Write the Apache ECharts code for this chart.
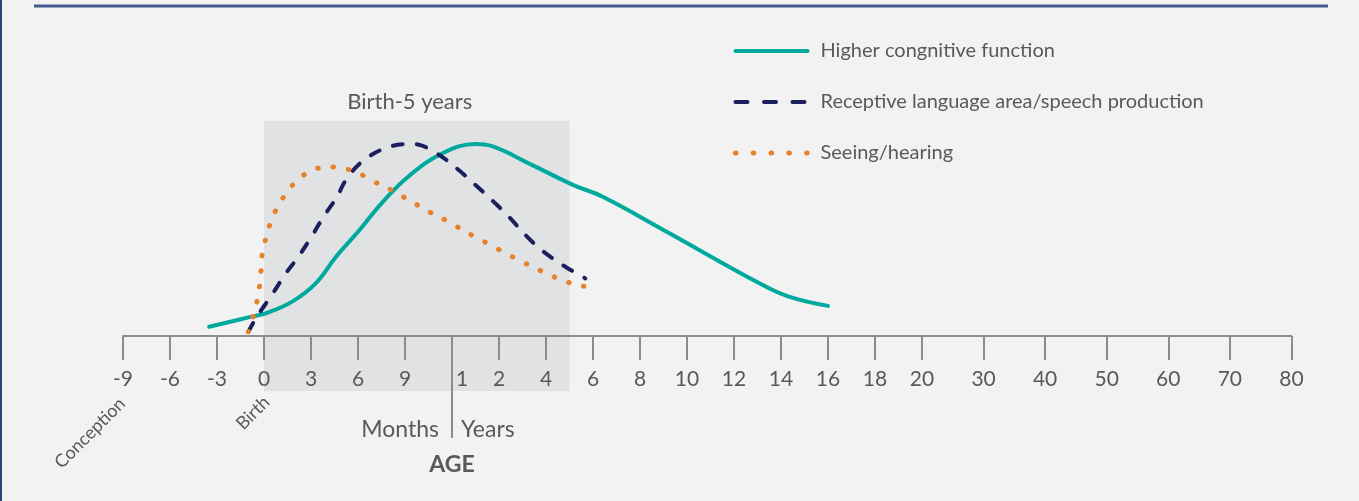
<!DOCTYPE html>
<html><head><meta charset="utf-8">
<script src="https://cdn.jsdelivr.net/npm/echarts@6/dist/echarts.min.js"></script>
<style>html,body{margin:0;padding:0;background:#f2f2f2;}#c{width:1359px;height:501px;}</style>
</head><body><div id="c"></div>
<script>
// Age axis ticks (age in months) and their labels
const tickAges = [-9,-6,-3,0,3,6,9,12,24,48,72,96,120,144,168,192,216,240,360,480,600,720,840,960];
const tickLabels = ['-9','-6','-3','0','3','6','9','1','2','4','6','8','10','12','14','16','18','20','30','40','50','60','70','80'];
const seriesNames = ['Higher congnitive function','Receptive language area/speech production','Seeing/hearing'];
// [age in months, relative level]
const cognitive = [[-3.5,4.3],[-0.8,9.0],[0.2,10.8],[1.8,16.0],[3.3,24.5],[4.6,36.9],[6.1,49.3],[7.5,61.7],[9.2,74.1],[11.4,85.0],[18,89.3],[22,88.4],[41,79.5],[62,70.2],[77,64.8],[111,47.8],[157,24.5],[172,18.3],[192,14.0]];
const language = [[-1.0,2.0],[-0.45,9.0],[0.5,19.1],[1.4,29.2],[2.2,36.9],[3.1,47.0],[3.8,55.5],[4.6,64.0],[5.3,73.3],[6.4,81.9],[8.0,88.0],[9.5,89.3],[11.0,85.0],[13.7,77.2],[18,70.2],[22.6,62.5],[29.8,54.7],[38.3,46.2],[46.8,39.2],[57.9,32.2],[68.1,26.8]];
const seeing = [[-1.0,2.0],[-0.7,9.0],[-0.45,16.0],[-0.28,23.4],[-0.19,30.4],[-0.11,38.1],[0.13,45.7],[0.45,53.2],[0.9,60.5],[1.5,67.1],[2.2,72.9],[3.1,77.1],[4.1,78.7],[5.2,77.8],[6.1,75.5],[7.0,71.9],[8.0,68.4],[8.9,64.7],[9.8,60.9],[10.7,57.2],[11.7,53.5],[14.4,49.6],[18.1,45.9],[22,42.2],[27.4,38.5],[35.1,34.9],[42.7,31.5],[50.4,28.2],[58.4,25.3],[66.6,23.1],[73.2,23.3]];
const shadeAges = [0, 60]; // birth to 5 years
const shadeLabel = 'Birth-5 years';

// axis slot positions: evenly spaced ticks, decades after 20 years slightly wider
const DECADE = 1.31;
const slots = tickAges.map((a,i)=> i<=17 ? i : 17 + (i-17)*DECADE);
function ageToSlot(a){
  for(let i=0;i<tickAges.length-1;i++){
    if(a<=tickAges[i+1] || i===tickAges.length-2){
      const t=(a-tickAges[i])/(tickAges[i+1]-tickAges[i]);
      return slots[i]+t*(slots[i+1]-slots[i]);
    }
  }
}
const conv = arr => arr.map(p=>[ageToSlot(p[0]), p[1]]);
const YMIN = -47.44, YMAX = 100, SHADE_BOTTOM = -25.6;
const yearSlot = ageToSlot(12);

const chart = echarts.init(document.getElementById('c'));
const font = 'Lato';
const txt = '#58595b';
const axisCol = '#8c8c8c';
const C1='#00a99d', C2='#1c1f5e', C3='#e5822a';
chart.setOption({
  backgroundColor:'#f2f2f2',
  animation:false,
  textStyle:{fontFamily:font},
  grid:{left:123,right:67.6,top:121,bottom:63},
  legend:{
    orient:'vertical', left:728, top:34, itemWidth:72, itemHeight:14, itemGap:27,
    itemStyle:{opacity:0},
    textStyle:{fontSize:20,lineHeight:24,color:txt,fontFamily:font,padding:[0,0,0,8]},
    data:[
      {name:seriesNames[0],lineStyle:{width:4,cap:'round',type:'solid'}},
      {name:seriesNames[1],lineStyle:{width:4,cap:'round',type:[12,16.5]}},
      {name:seriesNames[2],lineStyle:{width:5,cap:'round',type:[0.5,17.3]}}
    ]
  },
  xAxis:{type:'value',min:0,max:slots[slots.length-1],z:2,
    axisLine:{onZero:true,lineStyle:{color:axisCol,width:2}},
    axisTick:{customValues:slots,length:24,lineStyle:{color:axisCol,width:2}},
    axisLabel:{customValues:slots,margin:-69,fontSize:21,color:txt,fontFamily:font,
      formatter:v=>{const i=slots.findIndex(s=>Math.abs(s-v)<1e-6); if(i<0) return ''; return i===7?'{b|'+tickLabels[i]+'}':tickLabels[i];},
      rich:{b:{fontSize:21,color:txt,fontFamily:font,padding:[0,0,0,20]}}},
    splitLine:{show:false}},
  yAxis:{type:'value',min:YMIN,max:YMAX,show:false},
  series:[
    {type:'line',name:'_shade',data:[],z:1,silent:true,
      markArea:{silent:true,itemStyle:{color:'#e1e2e4'},
        label:{show:true,position:'top',distance:8,offset:[-7,0],formatter:shadeLabel,fontSize:22,color:txt,fontFamily:font},
        data:[[{coord:[ageToSlot(shadeAges[0]),SHADE_BOTTOM]},{coord:[ageToSlot(shadeAges[1]),YMAX]}]]},
      markLine:{silent:true,symbol:'none',label:{show:false},lineStyle:{color:axisCol,width:2,type:'solid'},
        data:[[{coord:[yearSlot,YMIN]},{coord:[yearSlot,0]}]]}
    },
    {type:'line',name:seriesNames[0],data:conv(cognitive),smooth:0.4,showSymbol:false,symbol:'none',z:3,
      lineStyle:{color:C1,width:4,cap:'round'},itemStyle:{color:C1}},
    {type:'line',name:seriesNames[1],data:conv(language),smooth:0.4,showSymbol:false,symbol:'none',z:4,
      lineStyle:{color:C2,width:4,type:[10,14],cap:'round'},itemStyle:{color:C2}},
    {type:'line',name:seriesNames[2],data:conv(seeing),smooth:0.4,showSymbol:false,symbol:'none',z:5,
      lineStyle:{color:C3,width:5,type:[0.5,15],cap:'round'},itemStyle:{color:C3}}
  ]
});
const p0 = chart.convertToPixel({gridIndex:0},[yearSlot,0]);
const pc = chart.convertToPixel({gridIndex:0},[slots[0],0]);
const pb = chart.convertToPixel({gridIndex:0},[ageToSlot(0),0]);
chart.setOption({graphic:[
  {type:'rect',shape:{x:0,y:0,width:2,height:501},style:{fill:'#2e4679'},silent:true},
  {type:'line',shape:{x1:34,y1:6,x2:1328,y2:6},style:{stroke:'#415b8c',lineWidth:3},silent:true},
  {type:'text',x:p0[0]-13,y:p0[1]+93.5,style:{text:'Months',font:'23px "'+font+'"',fill:txt,align:'right',verticalAlign:'middle'}},
  {type:'text',x:p0[0]+9,y:p0[1]+93.5,style:{text:'Years',font:'23px "'+font+'"',fill:txt,align:'left',verticalAlign:'middle'}},
  {type:'text',x:p0[0],y:p0[1]+129,style:{text:'AGE',font:'bold 23px "'+font+'"',fill:txt,align:'center',verticalAlign:'middle'}},
  {type:'text',x:pc[0]-33,y:pc[1]+97,rotation:Math.PI/4,style:{text:'Conception',font:'18px "'+font+'"',fill:txt,align:'center',verticalAlign:'middle'}},
  {type:'text',x:pb[0]-11,y:pb[1]+77,rotation:Math.PI/4,style:{text:'Birth',font:'18px "'+font+'"',fill:txt,align:'center',verticalAlign:'middle'}}
]});
</script></body></html>
